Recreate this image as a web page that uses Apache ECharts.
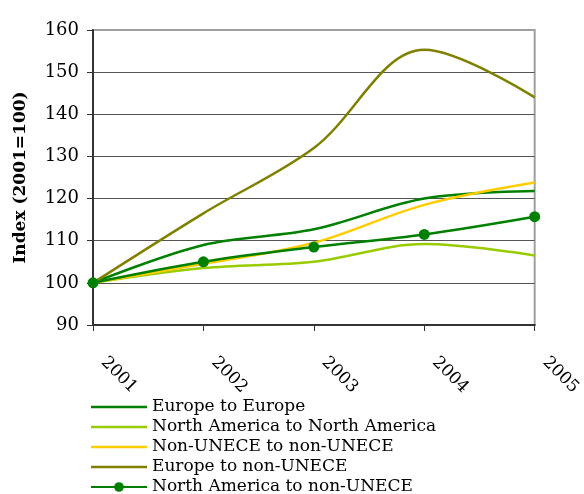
<!DOCTYPE html>
<html lang="en">
<head>
    <meta charset="UTF-8">
    <title>Index chart</title>
    <script src="https://cdn.jsdelivr.net/npm/echarts@6/dist/echarts.min.js"></script>
    <style>
        html, body { margin: 0; padding: 0; background: #fff; }
        #main { width: 584px; height: 494px; }
    </style>
</head>
<body>
<div id="main"></div>
<script>
    // data
    var years = ['2001', '2002', '2003', '2004', '2005'];
    var europeToEurope = [100, 109.0, 112.7, 120.0, 121.8];
    var naToNa = [100, 103.5, 105.0, 109.2, 106.5];
    var nonToNon = [100, 104.5, 109.5, 118.5, 123.8];
    var europeToNon = [100, 116.5, 132.0, 155.3, 144.0];
    var naToNon = [100, 105.0, 108.5, 111.5, 115.7];

    var serif = 'DejaVu Serif';
    var lineIcon = 'path://M0,0H56V2.5H0Z';   // plain line for legend

    function line(name, data, color, marker) {
        return {
            name: name,
            type: 'line',
            data: data,
            smooth: 0.35,
            symbol: marker ? 'circle' : 'none',
            symbolSize: 11,
            showSymbol: !!marker,
            itemStyle: { color: color },
            lineStyle: { color: color, width: 2.5 },
            emphasis: { disabled: true }
        };
    }

    var myChart = echarts.init(document.getElementById('main'));
    var option = {
        animation: false,
        textStyle: { fontFamily: serif },
        grid: {
            left: 93, right: 48, top: 30, bottom: 169,
            show: true, borderColor: '#a0a0a0', borderWidth: 2,
            containLabel: false
        },
        legend: {
            orient: 'vertical',
            left: 90, top: 397, height: 120,
            padding: 0,
            itemWidth: 56, itemHeight: 12, itemGap: 0,
            textStyle: { fontFamily: serif, fontSize: 17, color: '#000', lineHeight: 20 },
            data: [
                { name: 'Europe to Europe', icon: lineIcon },
                { name: 'North America to North America', icon: lineIcon },
                { name: 'Non-UNECE to non-UNECE', icon: lineIcon },
                { name: 'Europe to non-UNECE', icon: lineIcon },
                { name: 'North America to non-UNECE' }
            ]
        },
        xAxis: {
            type: 'category',
            data: years,
            boundaryGap: false,
            axisLine: { lineStyle: { color: '#333', width: 2 } },
            axisTick: { alignWithLabel: true, length: 6, lineStyle: { color: '#333', width: 1 } },
            axisLabel: { rotate: -45, margin: 24, padding: [0, 0, 0, 15], fontSize: 17, color: '#000', fontFamily: serif },
            splitLine: { show: false }
        },
        yAxis: {
            type: 'value',
            min: 90, max: 160, interval: 10,
            name: 'Index (2001=100)',
            nameLocation: 'middle',
            nameGap: 64,
            nameTextStyle: { fontFamily: serif, fontSize: 17, fontWeight: 'bold', color: '#000' },
            axisLine: { show: true, lineStyle: { color: '#333', width: 2 } },
            axisTick: { show: true, length: 6, lineStyle: { color: '#333' } },
            axisLabel: { fontSize: 18, color: '#000', margin: 14, fontFamily: serif },
            splitLine: { show: true, showMaxLine: false, lineStyle: { color: '#555', width: 1 } }
        },
        series: [
            line('Europe to Europe', europeToEurope, '#008000'),
            line('North America to North America', naToNa, '#99cc00'),
            line('Non-UNECE to non-UNECE', nonToNon, '#ffcc00'),
            line('Europe to non-UNECE', europeToNon, '#808000'),
            line('North America to non-UNECE', naToNon, '#008000', true)
        ]
    };
    myChart.setOption(option);
</script>
</body>
</html>
